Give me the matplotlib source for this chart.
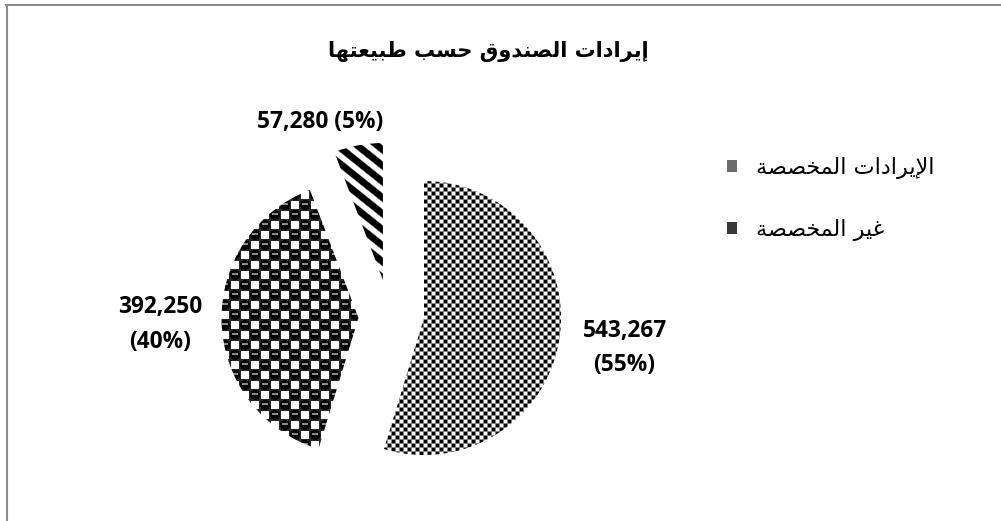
import numpy as np
import matplotlib
matplotlib.use("Agg")
import matplotlib.pyplot as plt
from matplotlib.patches import Patch
from matplotlib.lines import Line2D

# ---------------- data ----------------
values = [543267, 392250, 57280]
pct_labels = [55, 40, 5]
legend_labels = ["الإيرادات المخصصة", "غير المخصصة"]
title_text = "إيرادات الصندوق حسب طبيعتها"

# ------------- Arabic shaping (presentation forms, RTL) -------------
_FORMS = {
    '\u0621': ('\uFE80', None, None, None),
    '\u0625': ('\uFE87', '\uFE88', None, None),
    '\u0627': ('\uFE8D', '\uFE8E', None, None),
    '\u0628': ('\uFE8F', '\uFE90', '\uFE91', '\uFE92'),
    '\u0629': ('\uFE93', '\uFE94', None, None),
    '\u062A': ('\uFE95', '\uFE96', '\uFE97', '\uFE98'),
    '\u062D': ('\uFEA1', '\uFEA2', '\uFEA3', '\uFEA4'),
    '\u062E': ('\uFEA5', '\uFEA6', '\uFEA7', '\uFEA8'),
    '\u062F': ('\uFEA9', '\uFEAA', None, None),
    '\u0631': ('\uFEAD', '\uFEAE', None, None),
    '\u0633': ('\uFEB1', '\uFEB2', '\uFEB3', '\uFEB4'),
    '\u0635': ('\uFEB9', '\uFEBA', '\uFEBB', '\uFEBC'),
    '\u0637': ('\uFEC1', '\uFEC2', '\uFEC3', '\uFEC4'),
    '\u0639': ('\uFEC9', '\uFECA', '\uFECB', '\uFECC'),
    '\u063A': ('\uFECD', '\uFECE', '\uFECF', '\uFED0'),
    '\u0642': ('\uFED5', '\uFED6', '\uFED7', '\uFED8'),
    '\u0644': ('\uFEDD', '\uFEDE', '\uFEDF', '\uFEE0'),
    '\u0645': ('\uFEE1', '\uFEE2', '\uFEE3', '\uFEE4'),
    '\u0646': ('\uFEE5', '\uFEE6', '\uFEE7', '\uFEE8'),
    '\u0647': ('\uFEE9', '\uFEEA', '\uFEEB', '\uFEEC'),
    '\u0648': ('\uFEED', '\uFEEE', None, None),
    '\u064A': ('\uFEF1', '\uFEF2', '\uFEF3', '\uFEF4'),
    'LA': ('\uFEFB', '\uFEFC', None, None),
    'LA_HB': ('\uFEF9', '\uFEFA', None, None),
}


def shape_ar(text):
    toks = []
    i = 0
    while i < len(text):
        c = text[i]
        if c == '\u0644' and i + 1 < len(text) and text[i + 1] in ('\u0627', '\u0625'):
            toks.append('LA' if text[i + 1] == '\u0627' else 'LA_HB')
            i += 2
        else:
            toks.append(c)
            i += 1
    out = []
    for k, t in enumerate(toks):
        f = _FORMS.get(t)
        if f is None:
            out.append(t)
            continue
        prev = _FORMS.get(toks[k - 1]) if k > 0 else None
        nxt = _FORMS.get(toks[k + 1]) if k + 1 < len(toks) else None
        jp = prev is not None and prev[2] is not None
        jn = nxt is not None and f[2] is not None
        if jp and jn:
            g = f[3]
        elif jp:
            g = f[1]
        elif jn:
            g = f[2]
        else:
            g = f[0]
        out.append(g)
    return ''.join(reversed(out))


# ---------------- figure ----------------
W, H = 1001, 521
DPI = 100
fig = plt.figure(figsize=(W / DPI, H / DPI), dpi=DPI)
fig.patch.set_facecolor("white")
ax = fig.add_axes([0, 0, 1, 1])

R_PX = 137.0
CX, CY = 424.0, 318.0   # pie centre in pixels (from top-left)
xlim = (-CX / R_PX, (W - CX) / R_PX)
ylim = ((CY - H) / R_PX, CY / R_PX)

wedges, _ = ax.pie(values, startangle=90, counterclock=False, radius=1.0,
                   wedgeprops=dict(facecolor="none", edgecolor="none", linewidth=0))

# custom slice offsets (explosion), data units
offsets = [(0.0, 0.0), (-0.478, 0.0), (-0.30, 0.277)]
for w, (dx, dy) in zip(wedges, offsets):
    w.set_center((dx, dy))

# ---------------- fill textures ----------------
Yg, Xg = np.mgrid[0:H, 0:W]

# small checkerboard (4 px cells, grey seams)
c4 = 4
checker = ((Xg // c4 + Yg // c4) % 2).astype(float)
seam = ((Xg % c4) == c4 - 1) | ((Yg % c4) == c4 - 1)
checker[seam] = 0.5

# spheres: balls on a diagonal lattice with white squares between
c10 = 10
ci, cj = Xg // c10, Yg // c10
u = (Xg % c10) - 4.5
v = (Yg % c10) - 4.5
ball_cell = ((ci + cj) % 2) == 0
sph = np.full((H, W), 0.15)
in_ball = ball_cell & (u ** 2 + v ** 2 <= 26.0)
sph[in_ball] = 0.0
hl = ball_cell & (np.abs(v + 1.0) <= 0.5) & (np.abs(u) <= 2.5)
sph[hl] = 0.55
wsq = (~ball_cell) & (np.abs(u) <= 3.5) & (np.abs(v) <= 3.5)
sph[wsq] = 1.0

# diagonal stripes
s = (Yg - 0.8 * Xg) % 16.0
dv = np.abs(((s - 3.5 + 8.0) % 16.0) - 8.0)
stripes = np.clip((dv - 3.6) / 1.6, 0, 1)

textures = [checker, sph, stripes]
extent = (xlim[0], xlim[1], ylim[0], ylim[1])
for w, tex in zip(wedges, textures):
    im = ax.imshow(tex, cmap="gray", vmin=0, vmax=1, interpolation="nearest",
                   extent=extent, origin="upper", zorder=2, aspect="auto")
    im.set_clip_path(w)

ax.set_xlim(*xlim)
ax.set_ylim(*ylim)
ax.set_aspect("auto")
ax.axis("off")

# ---------------- data labels ----------------
label_dist = [1.48, 1.45, 1.2]
label_shift = [(0.0, 0.0), (0.0, 0.0), (-0.24, -0.03)]
label_sep = ["\n", "\n", " "]
for w, v_, p, d, (sx, sy), sep in zip(wedges, values, pct_labels, label_dist, label_shift, label_sep):
    mid = np.deg2rad((w.theta1 + w.theta2) / 2.0)
    cx, cy = w.center
    lx = cx + d * np.cos(mid) + sx
    ly = cy + d * np.sin(mid) + sy
    ax.text(lx, ly, f"{v_:,}{sep}({p}%)", ha="center", va="center",
            multialignment="center", fontsize=16.3, fontweight="bold",
            family=["Open Sans", "DejaVu Sans"], linespacing=1.6, zorder=5)

# ---------------- title ----------------
fig.text(488 / W, 1 - 52 / H, shape_ar(title_text), ha="center", va="center",
         fontsize=15, fontweight="bold", family=["DejaVu Sans"])

# ---------------- legend ----------------
handles = [Patch(facecolor="0.42", edgecolor="none"),
           Patch(facecolor="0.22", edgecolor="none")]
leg = fig.legend(handles, [shape_ar(t) for t in legend_labels],
                 loc="upper left", bbox_to_anchor=(727 / W, 1 - 157 / H),
                 frameon=False, handlelength=0.45, handleheight=0.45,
                 handletextpad=0.85, labelspacing=1.8, borderpad=0,
                 borderaxespad=0,
                 prop=dict(family="DejaVu Sans", size=16))

# ---------------- outer border ----------------
fig.add_artist(Line2D([6 / W, 1.0], [1 - 5 / H, 1 - 5 / H], transform=fig.transFigure,
                      color="#8c8c8c", linewidth=1.5))
fig.add_artist(Line2D([7 / W, 7 / W], [0.0, 1 - 5 / H], transform=fig.transFigure,
                      color="#8c8c8c", linewidth=1.5))

fig.savefig("out.png", dpi=DPI, facecolor="white")
